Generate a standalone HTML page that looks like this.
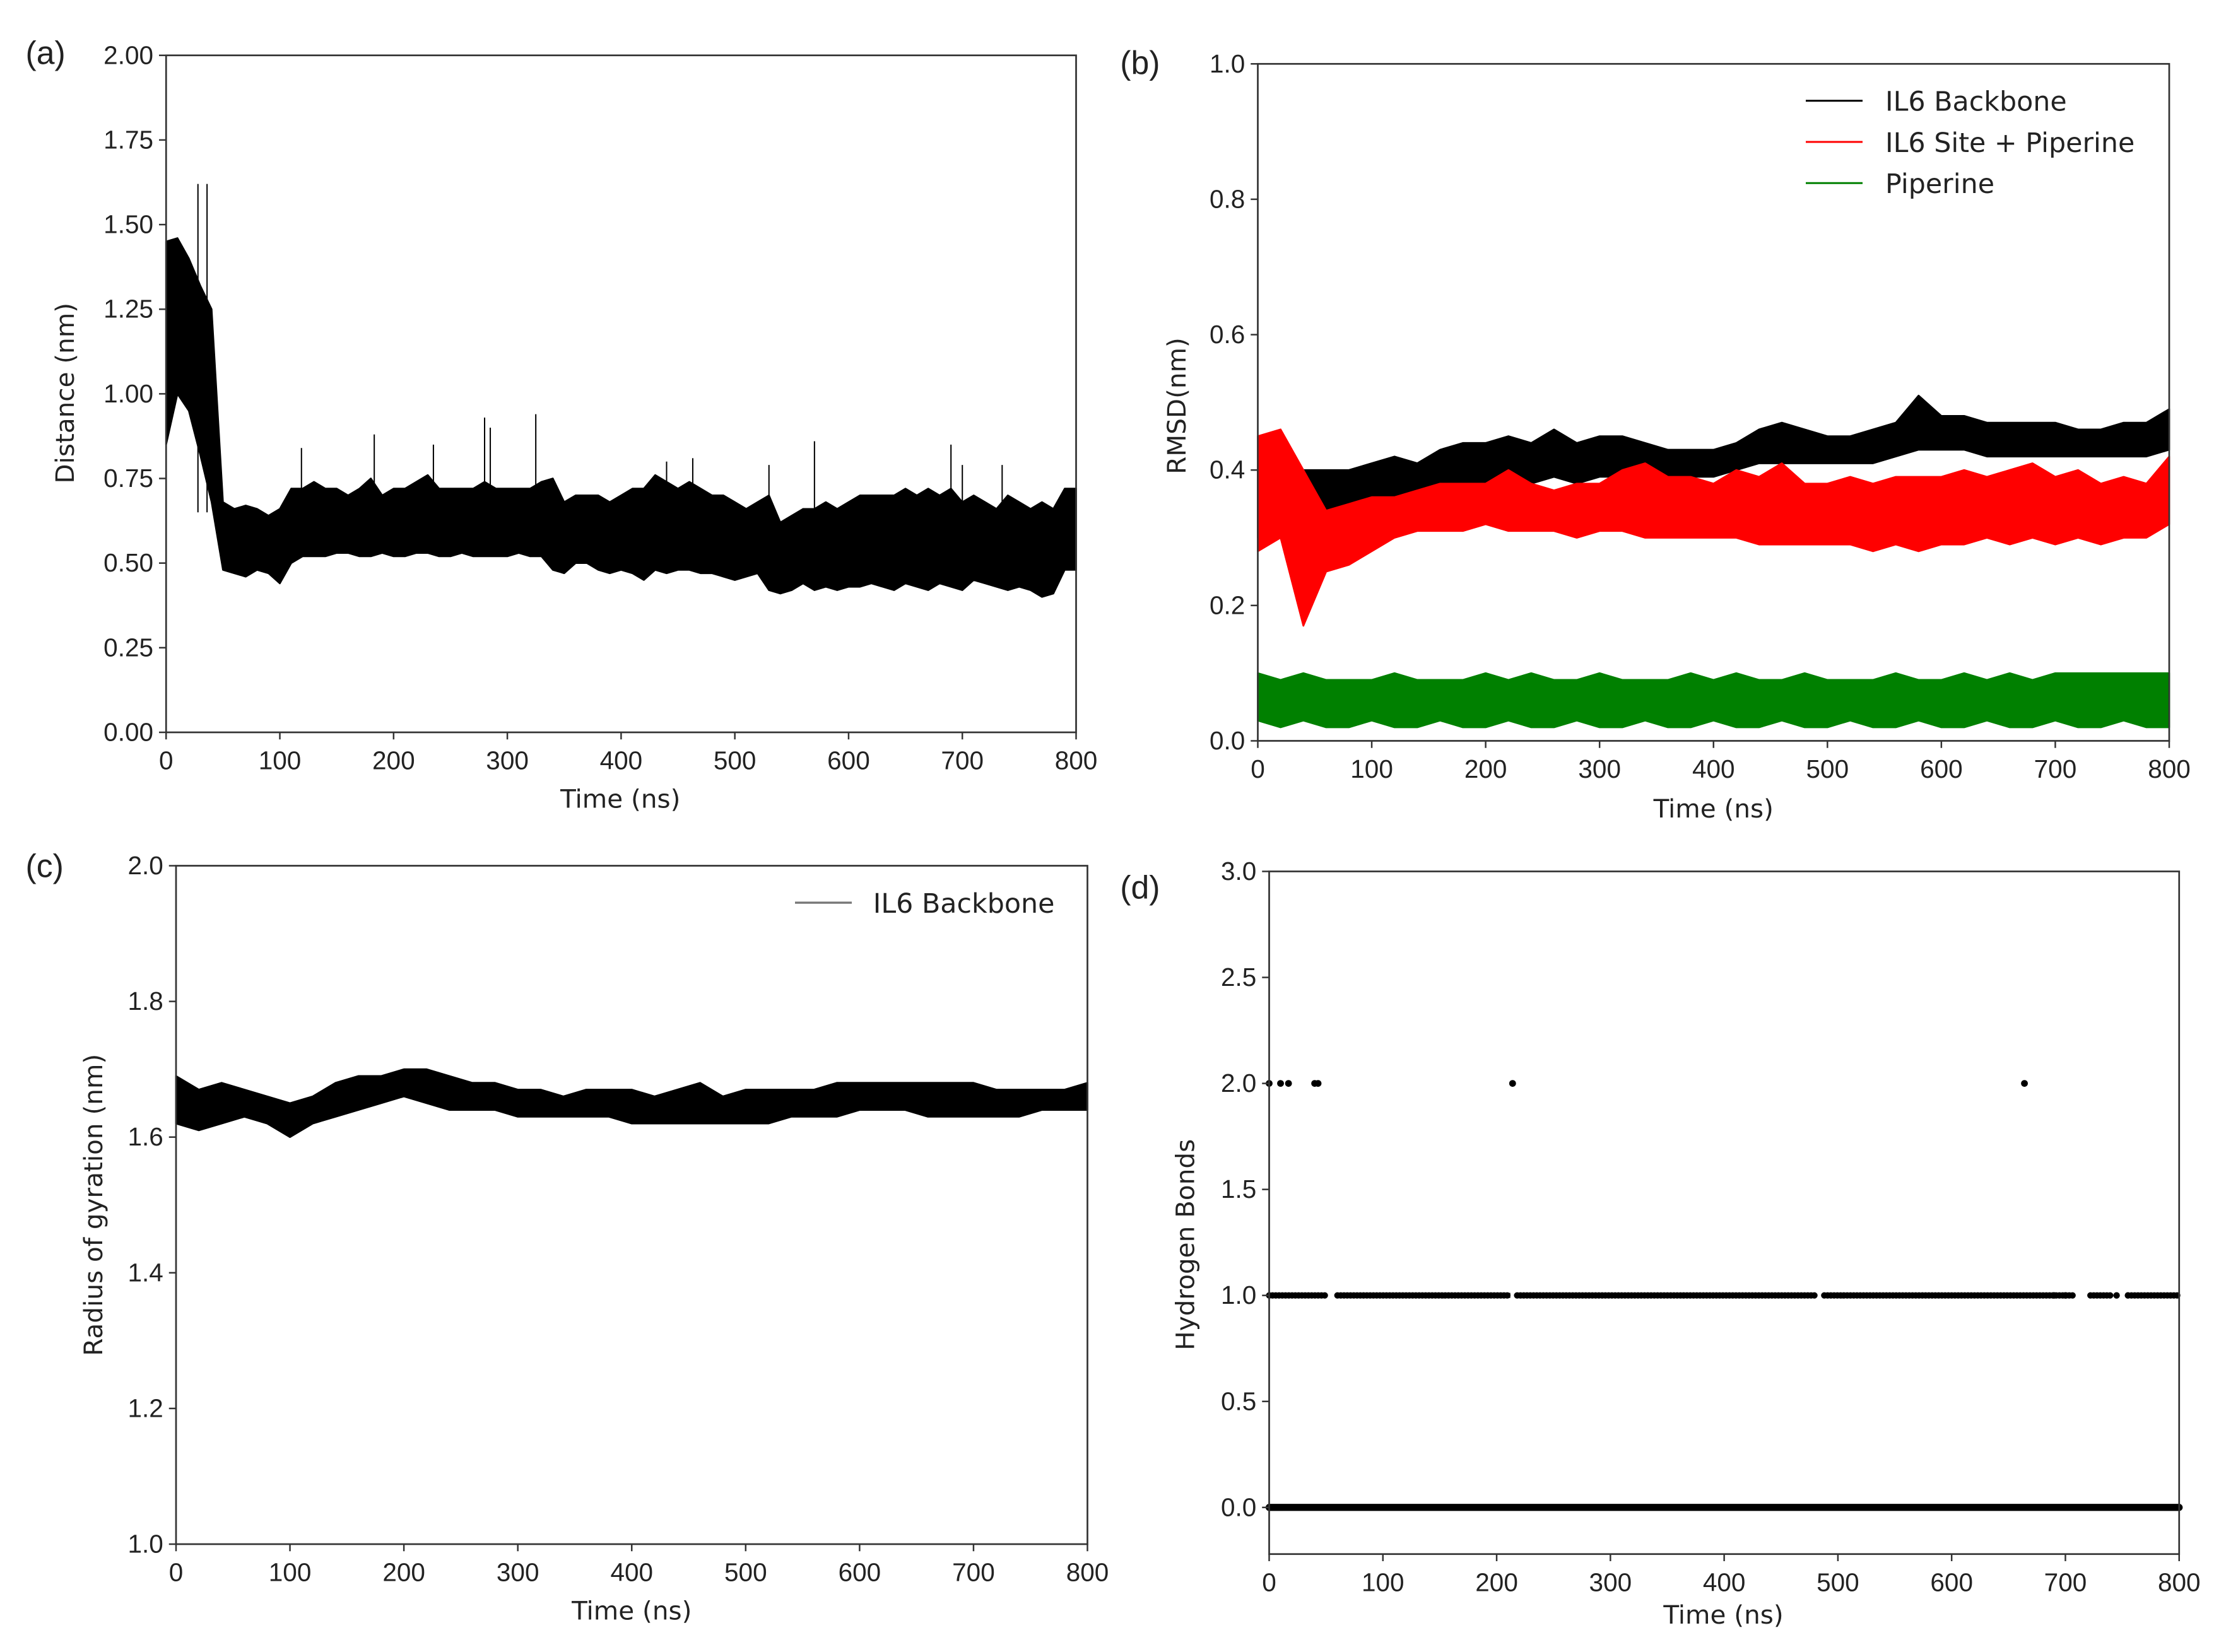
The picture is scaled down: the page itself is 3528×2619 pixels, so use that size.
<!DOCTYPE html>
<html><head><meta charset="utf-8"><style>
html,body{margin:0;padding:0;background:#fff;}
svg{display:block;}
text{font-family:"Liberation Sans","DejaVu Sans",sans-serif;fill:#222;}
.tk{font-size:18px;}
.ttl{font-family:"DejaVu Sans","Liberation Sans",sans-serif;font-size:18px;}
.lg{font-family:"DejaVu Sans","Liberation Sans",sans-serif;font-size:19px;}
.pl{font-size:23px;}
</style></head><body>
<svg id="fig" width="3528" height="2619" viewBox="0 0 1568 1164" xmlns="http://www.w3.org/2000/svg"></svg>
<script>
// ---------- data ----------
const aTimes = Array.from({length:81},(_, i)=>i*10);
const aUpper = [1.45,1.46,1.40,1.32,1.25,0.68,0.66,0.67,0.66,0.64,0.66,0.72,0.72,0.74,0.72,0.72,0.70,0.72,0.75,0.70,
0.72,0.72,0.74,0.76,0.72,0.72,0.72,0.72,0.74,0.72,0.72,0.72,0.72,0.74,0.75,0.68,0.70,0.70,0.70,0.68,
0.70,0.72,0.72,0.76,0.74,0.72,0.74,0.72,0.70,0.70,0.68,0.66,0.68,0.70,0.62,0.64,0.66,0.66,0.68,0.66,
0.68,0.70,0.70,0.70,0.70,0.72,0.70,0.72,0.70,0.72,0.68,0.70,0.68,0.66,0.70,0.68,0.66,0.68,0.66,0.72,0.72];
const aLower = [0.85,1.00,0.95,0.82,0.68,0.48,0.47,0.46,0.48,0.47,0.44,0.50,0.52,0.52,0.52,0.53,0.53,0.52,0.52,0.53,
0.52,0.52,0.53,0.53,0.52,0.52,0.53,0.52,0.52,0.52,0.52,0.53,0.52,0.52,0.48,0.47,0.50,0.50,0.48,0.47,
0.48,0.47,0.45,0.48,0.47,0.48,0.48,0.47,0.47,0.46,0.45,0.46,0.47,0.42,0.41,0.42,0.44,0.42,0.43,0.42,
0.43,0.43,0.44,0.43,0.42,0.44,0.43,0.42,0.44,0.43,0.42,0.45,0.44,0.43,0.42,0.43,0.42,0.40,0.41,0.48,0.48];
const aSpikeT = [28,36,119,183,235,280,285,325,440,463,530,570,690,700,735];
const aSpikeV = [1.62,1.62,0.84,0.88,0.85,0.93,0.90,0.94,0.80,0.81,0.79,0.86,0.85,0.79,0.79];
const bTimes = Array.from({length:41},(_, i)=>i*20);
const bBlackUpper=[0.40,0.40,0.40,0.40,0.40,0.41,0.42,0.41,0.43,0.44,0.44,0.45,0.44,0.46,0.44,0.45,0.45,0.44,0.43,0.43,0.43,0.44,0.46,0.47,0.46,0.45,0.45,0.46,0.47,0.51,0.48,0.48,0.47,0.47,0.47,0.47,0.46,0.46,0.47,0.47,0.49];
const bBlackLower=[0.30,0.33,0.33,0.34,0.35,0.36,0.36,0.36,0.37,0.38,0.38,0.38,0.38,0.39,0.38,0.39,0.39,0.39,0.39,0.39,0.39,0.40,0.41,0.41,0.41,0.41,0.41,0.41,0.42,0.43,0.43,0.43,0.42,0.42,0.42,0.42,0.42,0.42,0.42,0.42,0.43];
const bRedUpper=[0.45,0.46,0.40,0.34,0.35,0.36,0.36,0.37,0.38,0.38,0.38,0.40,0.38,0.37,0.38,0.38,0.40,0.41,0.39,0.39,0.38,0.40,0.39,0.41,0.38,0.38,0.39,0.38,0.39,0.39,0.39,0.40,0.39,0.40,0.41,0.39,0.40,0.38,0.39,0.38,0.42];
const bRedLower=[0.28,0.30,0.17,0.25,0.26,0.28,0.30,0.31,0.31,0.31,0.32,0.31,0.31,0.31,0.30,0.31,0.31,0.30,0.30,0.30,0.30,0.30,0.29,0.29,0.29,0.29,0.29,0.28,0.29,0.28,0.29,0.29,0.30,0.29,0.30,0.29,0.30,0.29,0.30,0.30,0.32];
const bGreenUpper=[0.10,0.09,0.10,0.09,0.09,0.09,0.10,0.09,0.09,0.09,0.10,0.09,0.10,0.09,0.09,0.10,0.09,0.09,0.09,0.10,0.09,0.10,0.09,0.09,0.10,0.09,0.09,0.09,0.10,0.09,0.09,0.10,0.09,0.10,0.09,0.10,0.10,0.10,0.10,0.10,0.10];
const bGreenLower=[0.03,0.02,0.03,0.02,0.02,0.03,0.02,0.02,0.03,0.02,0.02,0.03,0.02,0.02,0.03,0.02,0.02,0.03,0.02,0.02,0.03,0.02,0.02,0.03,0.02,0.02,0.03,0.02,0.02,0.03,0.02,0.02,0.03,0.02,0.02,0.03,0.02,0.02,0.03,0.02,0.02];
const bLegend = ["IL6 Backbone","IL6 Site + Piperine","Piperine"];
const cUpper=[1.69,1.67,1.68,1.67,1.66,1.65,1.66,1.68,1.69,1.69,1.70,1.70,1.69,1.68,1.68,1.67,1.67,1.66,1.67,1.67,1.67,1.66,1.67,1.68,1.66,1.67,1.67,1.67,1.67,1.68,1.68,1.68,1.68,1.68,1.68,1.68,1.67,1.67,1.67,1.67,1.68];
const cLower=[1.62,1.61,1.62,1.63,1.62,1.60,1.62,1.63,1.64,1.65,1.66,1.65,1.64,1.64,1.64,1.63,1.63,1.63,1.63,1.63,1.62,1.62,1.62,1.62,1.62,1.62,1.62,1.63,1.63,1.63,1.64,1.64,1.64,1.63,1.63,1.63,1.63,1.63,1.64,1.64,1.64];
const dZeroRanges=[[0,800]];
const dOneStart=[0,60,218,488,722,758];
const dOneEnd=[50,212,480,708,740,800];
const dOneDots=[690,700,745,755];
const dTwoTimes=[0,10,17,40,43,214,664];
const aXTicks=[0,100,200,300,400,500,600,700,800];
const aYTicks=["0.00","0.25","0.50","0.75","1.00","1.25","1.50","1.75","2.00"];
const bYTicks=["0.0","0.2","0.4","0.6","0.8","1.0"];
const cYTicks=["1.0","1.2","1.4","1.6","1.8","2.0"];
const dYTicks=["0.0","0.5","1.0","1.5","2.0","2.5","3.0"];

const NS="http://www.w3.org/2000/svg";
const svg=document.getElementById('fig');
function mk(tag,attrs,parent){const e=document.createElementNS(NS,tag);for(const k in attrs)e.setAttribute(k,attrs[k]);(parent||svg).appendChild(e);return e;}

function panel(p){
  const g=mk('g',{});
  
  
  const sx=v=>p.l+(v-p.x0)/(p.x1-p.x0)*(p.r-p.l);
  const sy=v=>p.b-(v-p.y0)/(p.y1-p.y0)*(p.b-p.t);
  p.sx=sx;p.sy=sy;p.g=g;
  return p;
}
function frame(p,yt,yvals){
  const g=p.g;
  const r=mk('rect',{x:p.l,y:p.t,width:p.r-p.l,height:p.b-p.t,fill:'none',stroke:'#333','stroke-width':1.2},g);
  
  
  aXTicks.forEach(v=>{
    const x=p.sx(v);
    mk('line',{x1:x,x2:x,y1:p.b,y2:p.b+5,stroke:'#333','stroke-width':1.1},g);
    const t=mk('text',{x:x,y:p.b+26,'text-anchor':'middle',class:'tk'},g);t.textContent=v;
    
    
  });
  yt.forEach((s,i)=>{
    const y=p.sy(yvals[i]);
    mk('line',{x1:p.l-5,x2:p.l,y1:y,y2:y,stroke:'#333','stroke-width':1.1},g);
    const t=mk('text',{x:p.l-9,y:y+6,'text-anchor':'end',class:'tk'},g);t.textContent=s;
    
    
  });
}
function band(p,ts,up,lo,color,name){
  let pts=[];
  ts.forEach((t,i)=>pts.push(p.sx(t)+','+p.sy(up[i])));
  for(let i=ts.length-1;i>=0;i--)pts.push(p.sx(ts[i])+','+p.sy(lo[i]));
  const e=mk('polygon',{points:pts.join(' '),fill:color,stroke:color,'stroke-width':1.2,'stroke-linejoin':'round'},p.g);
  
  
}
function text(x,y,s,cls,name,extra){
  const t=mk('text',Object.assign({x:x,y:y,class:cls},extra||{}));t.textContent=s;
  
  
  return t;
}

// ----- (a) -----
const A=panel({id:'a',l:117,r:758,t:39,b:516,x0:0,x1:800,y0:0,y1:2});
band(A,aTimes,aUpper,aLower,'#000','distance-series');
aSpikeT.forEach((t,i)=>{
  const s=mk('line',{x1:A.sx(t),x2:A.sx(t),y1:A.sy(0.65),y2:A.sy(aSpikeV[i]),stroke:'#000','stroke-width':0.9},A.g);
  
  
});
frame(A,aYTicks,aYTicks.map(Number));
text(437,569,'Time (ns)','ttl','x-axis-title-a',{'text-anchor':'middle'});
text(52,277,'Distance (nm)','ttl','y-axis-title-a',{'text-anchor':'middle',transform:'rotate(-90 52 277)'});
text(18,45,'(a)','pl','panel-label-a');

// ----- (b) -----
const B=panel({id:'b',l:886,r:1528,t:45,b:522,x0:0,x1:800,y0:0,y1:1});
band(B,bTimes,bBlackUpper,bBlackLower,'#000','il6-backbone-series');
band(B,bTimes,bRedUpper,bRedLower,'#ff0000','il6-site-piperine-series');
band(B,bTimes,bGreenUpper,bGreenLower,'#008000','piperine-series');
frame(B,bYTicks,bYTicks.map(Number));
text(1207,576,'Time (ns)','ttl','x-axis-title-b',{'text-anchor':'middle'});
text(835,286,'RMSD(nm)','ttl','y-axis-title-b',{'text-anchor':'middle',transform:'rotate(-90 835 286)'});
text(789,52,'(b)','pl','panel-label-b');
const bCols=['#000','#ff0000','#008000'];
bLegend.forEach((s,i)=>{
  const y=71+i*29;
  const l=mk('line',{x1:1272,x2:1312,y1:y,y2:y,stroke:bCols[i],'stroke-width':1.3});
  
  
  text(1328,y+7,s,'lg','legend-entry');
});

// ----- (c) -----
const C=panel({id:'c',l:124,r:766,t:610,b:1088,x0:0,x1:800,y0:1,y1:2});
band(C,bTimes,cUpper,cLower,'#000','radius-of-gyration-series');
frame(C,cYTicks,cYTicks.map(Number));
text(445,1141,'Time (ns)','ttl','x-axis-title-c',{'text-anchor':'middle'});
text(72,849,'Radius of gyration (nm)','ttl','y-axis-title-c',{'text-anchor':'middle',transform:'rotate(-90 72 849)'});
text(18,618,'(c)','pl','panel-label-c');
const cl=mk('line',{x1:560,x2:600,y1:636,y2:636,stroke:'#777','stroke-width':1.5});


text(615,643,'IL6 Backbone','lg','legend-entry');

// ----- (d) -----
const D=panel({id:'d',l:894,r:1535,t:614,b:1095,x0:0,x1:800,y0:-0.22,y1:3});
dZeroRanges.forEach(r=>{
  const l=mk('line',{x1:D.sx(r[0]),x2:D.sx(r[1]),y1:D.sy(0),y2:D.sy(0),stroke:'#000','stroke-width':5,'stroke-linecap':'round'},D.g);
  
  
});
dOneStart.forEach((s,i)=>{
  const l=mk('line',{x1:D.sx(s),x2:D.sx(dOneEnd[i]),y1:D.sy(1),y2:D.sy(1),stroke:'#000','stroke-width':4.5,'stroke-linecap':'round','stroke-dasharray':'0.1 2.2'},D.g);
  
  
  const l2=mk('line',{x1:D.sx(s),x2:D.sx(dOneEnd[i]),y1:D.sy(1),y2:D.sy(1),stroke:'#000','stroke-width':3.6},D.g);
  
  
});
dOneDots.forEach(t=>{
  const c=mk('circle',{cx:D.sx(t),cy:D.sy(1),r:2.3,fill:'#000'},D.g);
  
  
});
dTwoTimes.forEach(t=>{
  const c=mk('circle',{cx:D.sx(t),cy:D.sy(2),r:2.4,fill:'#000'},D.g);
  
  
});
frame(D,dYTicks,dYTicks.map(Number));
text(1214,1144,'Time (ns)','ttl','x-axis-title-d',{'text-anchor':'middle','font-size':'16'});
text(841,877,'Hydrogen Bonds','ttl','y-axis-title-d',{'text-anchor':'middle',transform:'rotate(-90 841 877)','font-size':'16'});
text(789,633,'(d)','pl','panel-label-d');
</script>
</body></html>
